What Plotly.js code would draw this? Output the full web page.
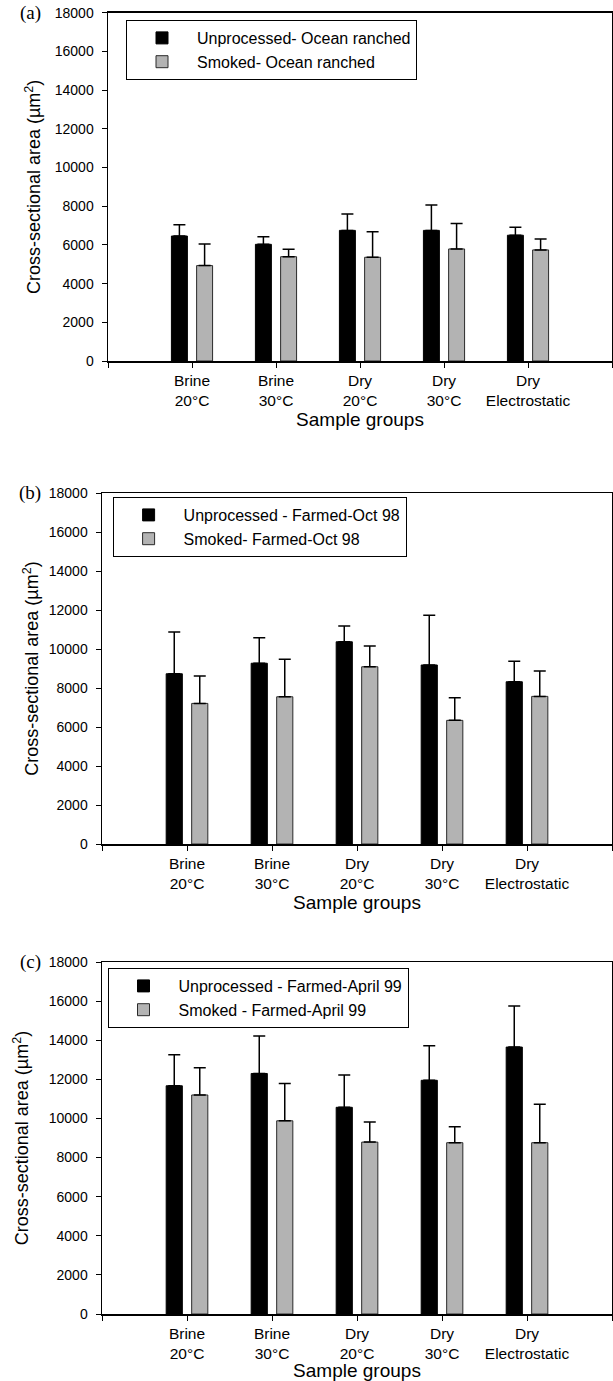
<!DOCTYPE html>
<html>
<head>
<meta charset="utf-8">
<script src="https://cdn.plot.ly/plotly-3.0.1.min.js"></script>
<style>html,body{margin:0;padding:0;background:#fff;}#chart{width:613px;height:1381px;}</style>
</head>
<body>
<div id="chart"></div>
<script>
// ---- data ----
const categories = ["Brine<br>20°C", "Brine<br>30°C", "Dry<br>20°C", "Dry<br>30°C", "Dry<br>Electrostatic"];
const yTicks = [0, 2000, 4000, 6000, 8000, 10000, 12000, 14000, 16000, 18000];

// (a) Ocean ranched
const namesA = ["Unprocessed- Ocean ranched", "Smoked- Ocean ranched"];
const unprocA = [6460, 6030, 6750, 6750, 6500];
const unprocAErr = [580, 390, 850, 1310, 410];
const smokedA = [4930, 5390, 5360, 5790, 5740];
const smokedAErr = [1120, 380, 1320, 1310, 560];

// (b) Farmed Oct 98
const namesB = ["Unprocessed - Farmed-Oct 98", "Smoked- Farmed-Oct 98"];
const unprocB = [8730, 9270, 10370, 9180, 8320];
const unprocBErr = [2140, 1310, 810, 2550, 1050];
const smokedB = [7210, 7550, 9090, 6340, 7570];
const smokedBErr = [1410, 1920, 1060, 1160, 1300];

// (c) Farmed April 99
const namesC = ["Unprocessed - Farmed-April 99", "Smoked - Farmed-April 99"];
const unprocC = [11670, 12300, 10570, 11950, 13650];
const unprocCErr = [1590, 1910, 1650, 1770, 2100];
const smokedC = [11200, 9880, 8790, 8760, 8760];
const smokedCErr = [1390, 1910, 1030, 820, 1960];

const panelLabels = ["(a)", "(b)", "(c)"];
const yTitle = "Cross-sectional area (µm<sup>2</sup>)";
const xTitle = "Sample groups";

// ---- build ----
const FONT = "Arial, 'Liberation Sans', Helvetica, sans-serif";
const W = 613, H = 1381;
const catPos = categories.map((c, i) => i + 1);
const edgeTicks = [0, categories.length + 1];

const panels = [
  {names: namesA, u: unprocA, ue: unprocAErr, s: smokedA, se: smokedAErr,
   left: 108, top: 12.7, bottom: 361, legX: 126, legY: 20, standoff: 9},
  {names: namesB, u: unprocB, ue: unprocBErr, s: smokedB, se: smokedBErr,
   left: 102, top: 493, bottom: 844, legX: 112.6, legY: 497, standoff: 5},
  {names: namesC, u: unprocC, ue: unprocCErr, s: smokedC, se: smokedCErr,
   left: 102, top: 962, bottom: 1314, legX: 107.5, legY: 968, standoff: 15}
];

const traces = [];
const layout = {
  width: W, height: H,
  margin: {l: 0, r: 0, t: 0, b: 0},
  paper_bgcolor: "#fff", plot_bgcolor: "#fff",
  barmode: "overlay",
  showlegend: true,
  font: {family: FONT, color: "#000"},
  annotations: []
};

panels.forEach((p, k) => {
  const sfx = k === 0 ? "" : String(k + 1);
  const xa = "x" + sfx, ya = "y" + sfx;
  const legName = "legend" + sfx;
  const errStyle = {type: "data", symmetric: false, color: "#000", thickness: 1.5, width: 6};
  traces.push({
    type: "bar", x: catPos, y: p.u, name: p.names[0], xaxis: xa, yaxis: ya, legend: legName,
    width: 0.19, offset: -0.245,
    marker: {color: "#000", line: {color: "#000", width: 1}},
    error_y: Object.assign({array: p.ue}, errStyle)
  });
  traces.push({
    type: "bar", x: catPos, y: p.s, name: p.names[1], xaxis: xa, yaxis: ya, legend: legName,
    width: 0.19, offset: 0.055,
    marker: {color: "#b3b3b3", line: {color: "#2a2a2a", width: 1}},
    error_y: Object.assign({array: p.se}, errStyle)
  });
  layout["xaxis" + sfx] = {
    domain: [p.left / W, 612 / W], anchor: ya, range: [0, categories.length + 1],
    tickmode: "array", tickvals: catPos, ticktext: categories,
    ticks: "outside", ticklen: 5, tickwidth: 1, tickcolor: "#000",
    minor: {tickmode: "array", tickvals: edgeTicks, ticks: "outside", ticklen: 5, tickwidth: 1, tickcolor: "#000", showgrid: false},
    showline: true, linecolor: "#000", linewidth: 1.5, mirror: true,
    showgrid: false, zeroline: false, fixedrange: true,
    tickfont: {family: FONT, size: 15.5, color: "#000"},
    title: {text: xTitle, font: {family: FONT, size: 19, color: "#000"}, standoff: 3}
  };
  layout["yaxis" + sfx] = {
    domain: [1 - p.bottom / H, 1 - p.top / H], anchor: xa, range: [0, 18000],
    tickmode: "array", tickvals: yTicks, ticktext: yTicks.map(String),
    ticks: "outside", ticklen: 5, tickwidth: 1, tickcolor: "#000",
    showline: true, linecolor: "#000", linewidth: 1.5, mirror: true,
    showgrid: false, zeroline: false, fixedrange: true,
    ticklabelstandoff: 5,
    tickfont: {family: FONT, size: 14, color: "#000"},
    title: {text: yTitle, font: {family: FONT, size: 18, color: "#000"}, standoff: p.standoff}
  };
  layout[legName] = {
    x: p.legX / W, y: 1 - p.legY / H, xanchor: "left", yanchor: "top",
    bgcolor: "#fff", bordercolor: "#000", borderwidth: 1,
    font: {family: FONT, size: 16, color: "#000"},
    itemwidth: 60, traceorder: "normal"
  };
  layout.annotations.push({
    xref: "paper", yref: "paper", x: 30 / W, y: 1 - p.top / H,
    xanchor: "center", yanchor: "middle", showarrow: false,
    text: panelLabels[k],
    font: {family: "'Times New Roman', 'Liberation Serif', serif", size: 19, color: "#000"}
  });
});

Plotly.newPlot("chart", traces, layout, {displayModeBar: false, staticPlot: true});
</script>
</body>
</html>
